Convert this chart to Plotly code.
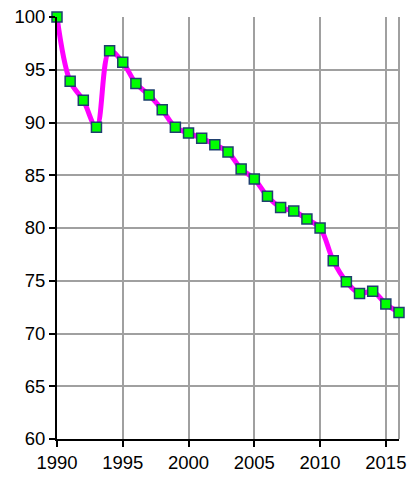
import plotly.graph_objects as go

years = list(range(1990, 2017))
values = [100.0, 93.9, 92.1, 89.55, 96.8, 95.7, 93.7, 92.6, 91.2, 89.55,
          89.0, 88.5, 87.9, 87.2, 85.6, 84.65, 83.0, 81.95, 81.6, 80.85,
          80.0, 76.9, 74.9, 73.8, 74.0, 72.8, 72.0]

x_ticks = [1990, 1995, 2000, 2005, 2010, 2015]
y_ticks = [60, 65, 70, 75, 80, 85, 90, 95, 100]

fig = go.Figure()

fig.add_trace(go.Scatter(
    x=years, y=values,
    mode='lines+markers',
    line=dict(color='#FF00FF', width=5, shape='spline', smoothing=1.0),
    marker=dict(symbol='square', size=10, color='#00FF00',
                line=dict(color='#1F3F6F', width=1.5)),
    showlegend=False,
    cliponaxis=False
))

grid = '#A0A0A0'

fig.update_layout(
    width=408, height=477,
    margin=dict(l=57, r=9, t=17, b=38),
    paper_bgcolor='white',
    plot_bgcolor='white',
    font=dict(family='Liberation Sans, Arial, sans-serif', size=18.5, color='black'),
    xaxis=dict(
        range=[1990, 2016], tickvals=x_ticks,
        showgrid=True, gridcolor=grid, gridwidth=2,
        showline=True, linecolor='black', linewidth=2,
        ticks='outside', ticklen=6, tickcolor='black', tickwidth=1.5,
        zeroline=False, automargin=False, ticklabeloverflow='allow'
    ),
    yaxis=dict(
        range=[60, 100], tickvals=y_ticks,
        showgrid=True, gridcolor=grid, gridwidth=2,
        showline=True, linecolor='black', linewidth=2,
        ticks='outside', ticklen=6, tickcolor='black', tickwidth=1.5,
        zeroline=False, automargin=False, ticklabeloverflow='allow'
    ),
    shapes=[dict(type='line', xref='paper', yref='paper',
                 x0=1, x1=1, y0=0, y1=1,
                 line=dict(color=grid, width=2), layer='below')]
)

# drop the default 8px page margin so the figure sits at the window corner
fig.write_html("out.html", config={'displayModeBar': False},
               post_script="document.body.style.margin='0';")
